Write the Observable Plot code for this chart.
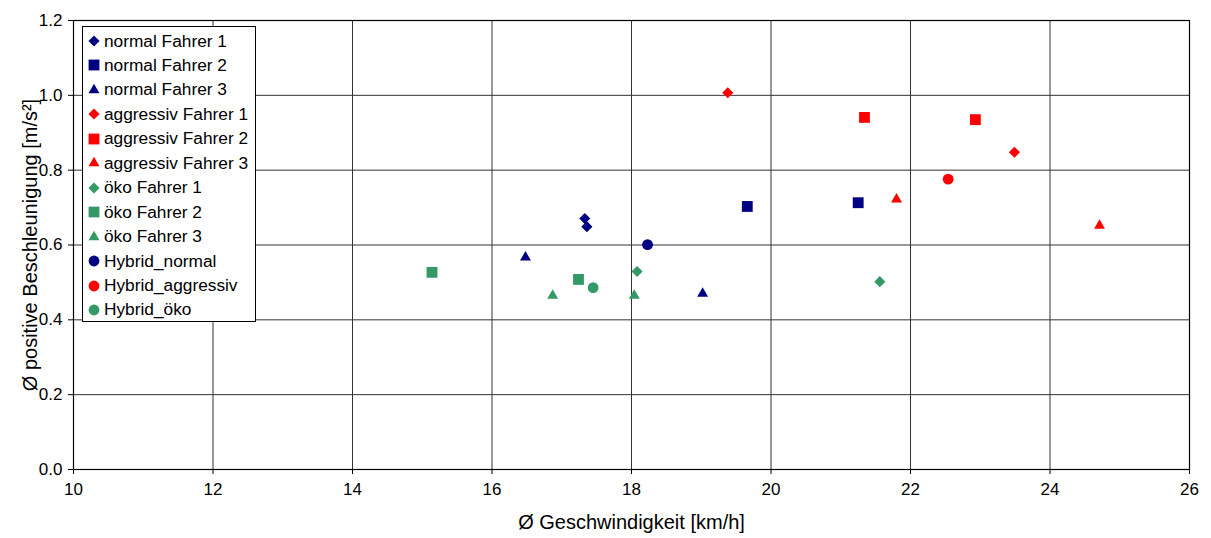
<!DOCTYPE html>
<html>
<head>
<meta charset="utf-8">
<script src="https://cdn.jsdelivr.net/npm/d3@7"></script>
<script src="https://cdn.jsdelivr.net/npm/@observablehq/plot@0.6"></script>
<style>
  html, body { margin: 0; padding: 0; background: #fff; }
  #wrap { position: relative; width: 1211px; height: 538px; font-family: "Liberation Sans", Arial, sans-serif; }
  #legend { position: absolute; left: 82px; top: 26px; width: 174px; height: 296px; border: 1px solid #000; background: #fff; box-sizing: border-box; }
  .row { position: absolute; left: 0; height: 24px; display: flex; align-items: center; font-size: 17.3px; color: #000; white-space: nowrap; }
  .row svg { margin-left: 4px; margin-right: 3px; }
</style>
</head>
<body>
<div id="wrap"><div id="legend"></div></div>
<script>
// ---- data ----
const seriesNames = [
  "normal Fahrer 1", "normal Fahrer 2", "normal Fahrer 3",
  "aggressiv Fahrer 1", "aggressiv Fahrer 2", "aggressiv Fahrer 3",
  "öko Fahrer 1", "öko Fahrer 2", "öko Fahrer 3",
  "Hybrid_normal", "Hybrid_aggressiv", "Hybrid_öko"
];
const seriesGroup = ["normal","normal","normal","aggressiv","aggressiv","aggressiv","öko","öko","öko","normal","aggressiv","öko"];
const seriesKind = ["Fahrer 1","Fahrer 2","Fahrer 3","Fahrer 1","Fahrer 2","Fahrer 3","Fahrer 1","Fahrer 2","Fahrer 3","Hybrid","Hybrid","Hybrid"];
// average speed [km/h]
const speedValues = [
  [17.33, 17.36], [19.66, 21.25], [16.48, 19.02],
  [19.38, 23.49], [21.34, 22.93], [21.80, 24.71],
  [18.08, 21.56], [15.14, 17.24], [16.87, 18.04],
  [18.23], [22.54], [17.45]
];
// average positive acceleration [m/s²]
const accelValues = [
  [0.671, 0.649], [0.703, 0.713], [0.567, 0.470],
  [1.007, 0.848], [0.941, 0.935], [0.722, 0.652],
  [0.529, 0.502], [0.527, 0.508], [0.465, 0.465],
  [0.601], [0.776], [0.486]
];
const xTicks = [10, 12, 14, 16, 18, 20, 22, 24, 26];
const yTicks = [0, 0.2, 0.4, 0.6, 0.8, 1.0, 1.2];
const xTitle = "Ø Geschwindigkeit [km/h]";
const yTitle = "Ø positive Beschleunigung [m/s²]";

// ---- styles ----
const groupDomain = ["normal", "aggressiv", "öko"];
const groupColors = ["#000080", "#FF0000", "#339966"];
const kindDomain = ["Fahrer 1", "Fahrer 2", "Fahrer 3", "Hybrid"];
const kindSymbols = ["diamond2", "square2", "triangle2", "circle"];
const kindR = {"Fahrer 1": 5, "Fahrer 2": 6.9, "Fahrer 3": 5.2, "Hybrid": 5.4};

const rows = [];
seriesNames.forEach((name, i) => {
  speedValues[i].forEach((v, j) => {
    rows.push({series: name, group: seriesGroup[i], kind: seriesKind[i], speed: v, accel: accelValues[i][j]});
  });
});

const fontFam = "Liberation Sans, Arial, sans-serif";
const dotMarks = kindDomain.map(k => Plot.dot(rows.filter(d => d.kind === k), {
  x: "speed", y: "accel", fill: "group", symbol: "kind", r: kindR[k], stroke: "none"
}));

const chart = Plot.plot({
  width: 1211,
  height: 538,
  marginLeft: 73,
  marginRight: 22,
  marginTop: 20,
  marginBottom: 69,
  style: {fontFamily: fontFam, background: "#fff", color: "#000"},
  x: {domain: [10, 26], ticks: xTicks},
  y: {domain: [0, 1.2], ticks: yTicks},
  color: {domain: groupDomain, range: groupColors},
  symbol: {domain: kindDomain, range: kindSymbols},
  marks: [
    Plot.gridX(xTicks, {stroke: "#333", strokeOpacity: 1, strokeWidth: 1}),
    Plot.gridY(yTicks, {stroke: "#333", strokeOpacity: 1, strokeWidth: 1}),
    Plot.frame({stroke: "#000", strokeWidth: 1.2}),
    Plot.axisX(xTicks, {tickSize: 5, tickPadding: 8, fontSize: 17, label: null, tickFormat: d3.format("d")}),
    Plot.axisY(yTicks, {tickSize: 5, tickPadding: 6, fontSize: 17, label: null, tickFormat: d3.format(".1f")}),
    Plot.text([xTitle], {frameAnchor: "bottom", dy: 53, fontSize: 20, text: d => d, textAnchor: "middle", lineAnchor: "middle"}),
    Plot.text([yTitle], {frameAnchor: "left", dx: -43, rotate: -90, fontSize: 20, text: d => d, textAnchor: "middle", lineAnchor: "middle"}),
    ...dotMarks
  ]
});
document.getElementById("wrap").prepend(chart);

// ---- legend ----
const legend = document.getElementById("legend");
const colorOf = g => groupColors[groupDomain.indexOf(g)];
const symOf = k => ({"diamond2": d3.symbolDiamond2, "square2": d3.symbolSquare2, "triangle2": d3.symbolTriangle2, "circle": d3.symbolCircle})[kindSymbols[kindDomain.indexOf(k)]];
seriesNames.forEach((name, i) => {
  const row = document.createElement("div");
  row.className = "row";
  row.style.top = (2 + i * 24.45) + "px";
  const r = kindR[seriesKind[i]];
  const path = d3.symbol(symOf(seriesKind[i]), Math.PI * r * r)();
  row.innerHTML = `<svg width="14" height="14" viewBox="-7 -7 14 14"><path d="${path}" fill="${colorOf(seriesGroup[i])}"></path></svg><span>${name}</span>`;
  legend.appendChild(row);
});
</script>
</body>
</html>
